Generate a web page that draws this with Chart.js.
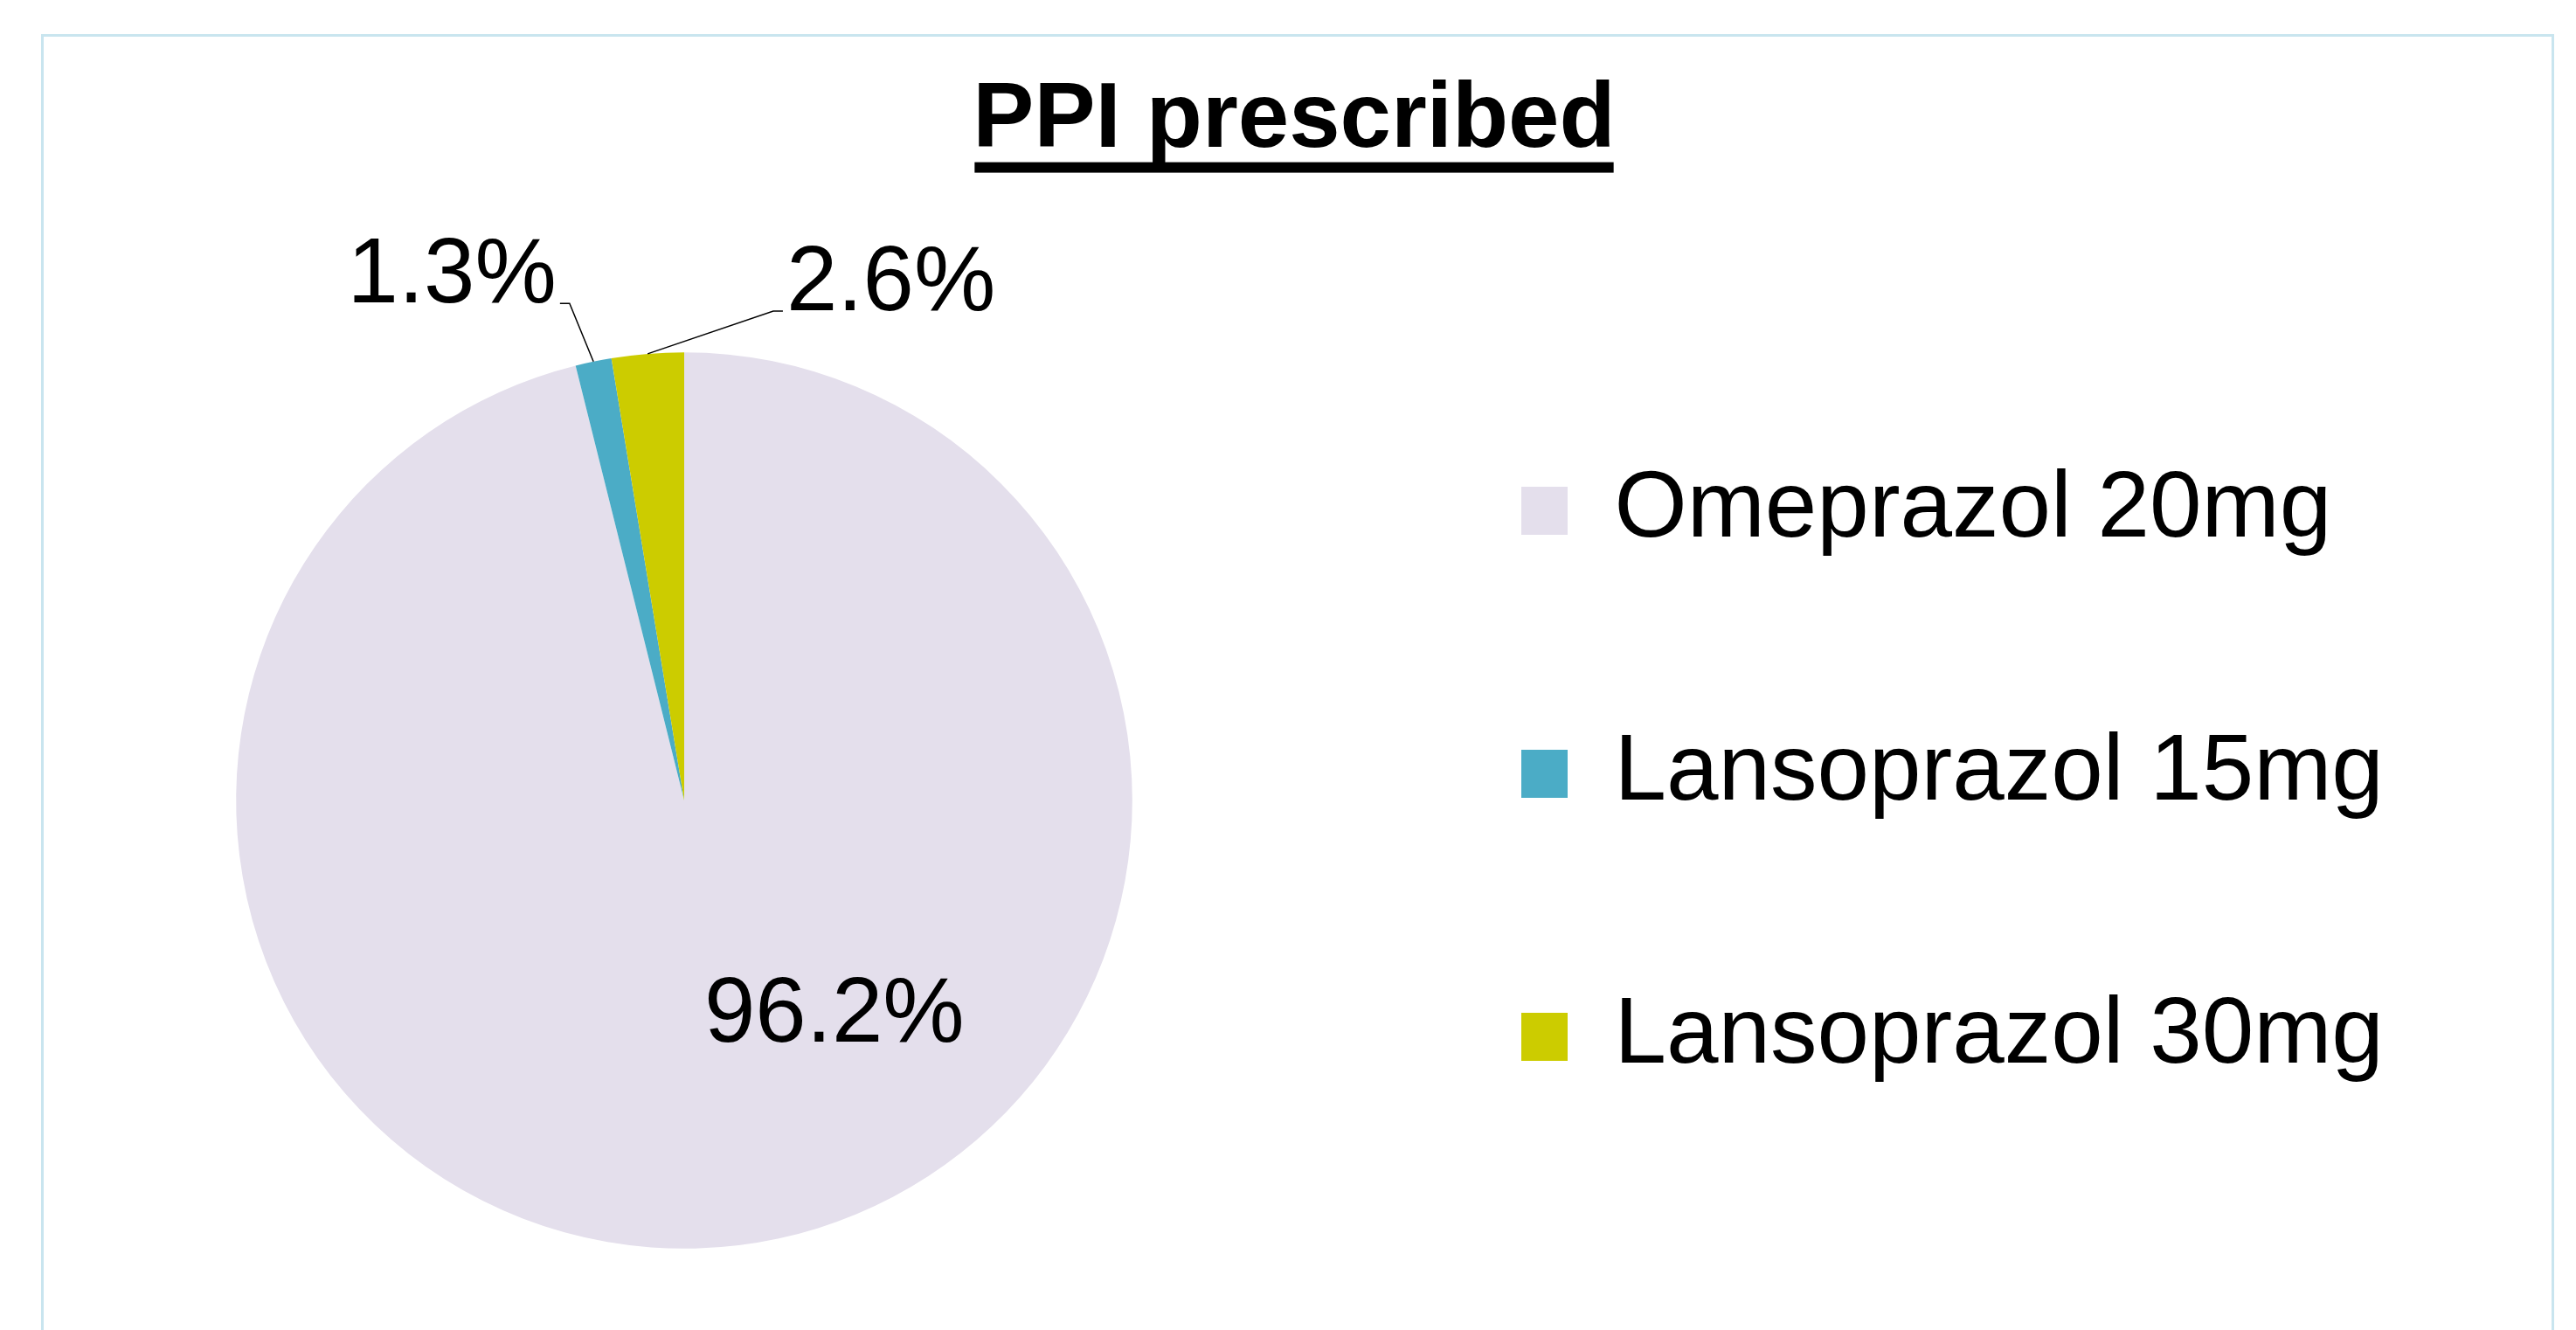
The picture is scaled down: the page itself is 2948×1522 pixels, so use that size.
<!DOCTYPE html>
<html>
<head>
<meta charset="utf-8">
<title>PPI prescribed</title>
<script src="https://cdn.jsdelivr.net/npm/chart.js@4.4.1/dist/chart.umd.min.js"></script>
<style>
  html, body { margin: 0; padding: 0; background: #fff; }
  #wrap { position: relative; width: 2948px; height: 1522px; overflow: hidden; }
  #frame { position: absolute; left: 47px; top: 39px; width: 2876px; height: 1600px;
           box-sizing: border-box; border: 3px solid #c9e5ef; border-bottom: none; }
  #grafico-pizza-ppi { position: absolute; left: 0; top: 0; }
</style>
</head>
<body>
<div id="wrap">
  <div id="frame"></div>
  <canvas id="grafico-pizza-ppi" width="2948" height="1522"></canvas>
</div>
<script>
var categories = ['Omeprazol 20mg', 'Lansoprazol 15mg', 'Lansoprazol 30mg'];
var percents = [96.2, 1.3, 2.6];
var colors = ['#e4dfec', '#4bacc6', '#cccc00'];

// where each percentage label sits, relative to the pie centre, in radius units
var labelSpots = [
    {dx: 0.335, dy: 0.538, align: 'center', leader: false},
    {dx: -0.285, dy: -1.111, align: 'right', leader: true},
    {dx: 0.228, dy: -1.094, align: 'left', leader: true}
];

var FONT = '"Liberation Sans", Arial, Helvetica, sans-serif';
Chart.defaults.font.family = FONT;
Chart.defaults.color = '#000';

var pieLabels = {
    id: 'pieLabels',
    afterDatasetsDraw: function(chart) {
        var ctx = chart.ctx;
        var arcs = chart.getDatasetMeta(0).data;
        ctx.save();
        ctx.font = '105px ' + FONT;
        ctx.fillStyle = '#000';
        ctx.strokeStyle = '#000';
        ctx.lineWidth = 1.5;
        ctx.textBaseline = 'alphabetic';
        arcs.forEach(function(arc, i) {
            var p = arc.getProps(['x', 'y', 'startAngle', 'endAngle', 'outerRadius'], true);
            var spot = labelSpots[i];
            var tx = p.x + spot.dx * p.outerRadius;
            var ty = p.y + spot.dy * p.outerRadius;
            if (spot.leader) {
                var mid = (p.startAngle + p.endAngle) / 2;
                var sx = p.x + Math.cos(mid) * p.outerRadius;
                var sy = p.y + Math.sin(mid) * p.outerRadius;
                var dir = spot.align === 'right' ? 1 : -1;
                var ex = tx + dir * 15;
                var ey = ty + 1;
                ctx.beginPath();
                ctx.moveTo(sx, sy);
                ctx.lineTo(ex, ey);
                ctx.lineTo(ex - dir * 11, ey);
                ctx.stroke();
            }
            ctx.textAlign = spot.align;
            ctx.fillText(percents[i].toFixed(1) + '%', tx, ty);
        });
        ctx.restore();
    }
};

var titleUnderline = {
    id: 'titleUnderline',
    afterDraw: function(chart) {
        var tb = chart.titleBlock;
        var opts = tb.options;
        var ctx = chart.ctx;
        ctx.save();
        ctx.font = 'bold ' + opts.font.size + 'px ' + FONT;
        var w = ctx.measureText(opts.text).width;
        var cx = (tb.left + tb.right) / 2;
        var midY = tb.top + opts.padding.top + opts.font.size * opts.font.lineHeight / 2;
        ctx.fillStyle = '#000';
        ctx.fillRect(cx - w / 2 + 2, midY + 47, w - 4, 12);
        ctx.restore();
    }
};

// widen the legend box so the pie and the legend sit where they do in the original
var legendWidth = {
    id: 'legendWidth',
    afterInit: function(chart) {
        var fit = chart.legend.fit;
        chart.legend.fit = function() {
            fit.bind(chart.legend)();
            this.width = 1396;
        };
    }
};

var ppi_ctx = document.getElementById('grafico-pizza-ppi').getContext('2d');
var ppi_config = {
    type: 'pie',
    data: {
        labels: categories,
        datasets: [{
            data: percents,
            backgroundColor: colors,
            borderWidth: 0,
            radius: '99%'
        }]
    },
    options: {
        responsive: false,
        animation: false,
        events: [],
        layout: {
            padding: {left: 19, right: 5, top: 0, bottom: 88}
        },
        plugins: {
            title: {
                display: true,
                text: 'PPI prescribed',
                color: '#000',
                font: {size: 105, weight: 'bold', lineHeight: 1.2},
                padding: {top: 75.6, bottom: 196.4}
            },
            legend: {
                position: 'right',
                align: 'end',
                labels: {
                    boxWidth: 53,
                    boxHeight: 55,
                    padding: 194,
                    color: '#000',
                    font: {size: 107}
                }
            },
            tooltip: {enabled: false}
        }
    },
    plugins: [legendWidth, pieLabels, titleUnderline]
};
var ppi_chart = new Chart(ppi_ctx, ppi_config);
</script>
</body>
</html>
